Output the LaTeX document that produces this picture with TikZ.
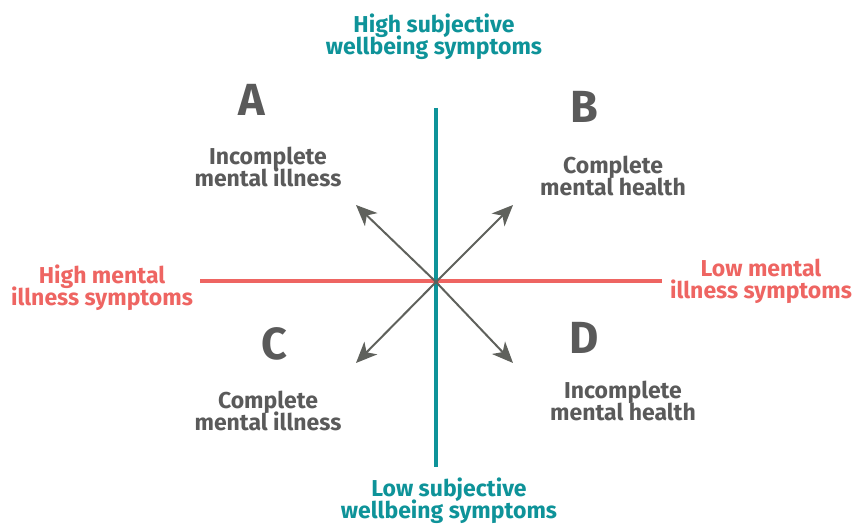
\documentclass[tikz,border=0pt]{standalone}
\usepackage{fontspec}
\setmainfont{Fira Sans}
\usetikzlibrary{arrows.meta}
\definecolor{teal}{HTML}{0E9399}
\definecolor{coral}{HTML}{EE6562}
\definecolor{txtgray}{HTML}{5A5A5A}
\definecolor{arrgray}{HTML}{5F615C}
\newcommand{\tightlines}{\lineskiplimit=-20pt\relax}
\tikzset{
  axlab/.style={font=\bfseries\fontsize{23}{22}\selectfont\tightlines, align=center, inner sep=0pt},
  quadlab/.style={font=\bfseries\fontsize{23}{21.5}\selectfont\tightlines, align=center, inner sep=0pt, text=txtgray},
  letter/.style={font=\bfseries\fontsize{45}{45}\selectfont, inner sep=0pt, text=txtgray},
  diag/.style={draw=arrgray, line width=2pt, -{Stealth[length=21pt,width=18pt,inset=6pt]}},
}
\begin{document}
\begin{tikzpicture}[x=1pt,y=-1pt]
\useasboundingbox (0,0) rectangle (854,524);
\coordinate (c) at (436,282);
\coordinate (vt) at (436,108);
\coordinate (vb) at (436,467);
\coordinate (hl) at (200,281);
\coordinate (hr) at (662,281);
\draw[coral, line width=4pt] (hl) -- (hr);
\draw[teal, line width=4pt] (vt) -- (vb);
\coordinate (tl) at (356,205);
\coordinate (tr) at (513,205);
\coordinate (bl) at (356,363);
\coordinate (br) at (513,363);
\draw[diag] (c) -- (tl);
\draw[diag] (c) -- (tr);
\draw[diag] (c) -- (bl);
\draw[diag] (c) -- (br);
\node[axlab, text=teal] (top) at (434,37) {High subjective\\wellbeing symptoms};
\node[axlab, text=teal] (bot) at (449,501) {Low subjective\\wellbeing symptoms};
\node[axlab, text=coral] (left) at (102,288) {High mental\\illness symptoms};
\node[axlab, text=coral] (right) at (761,281) {Low mental\\illness symptoms};
\node[letter] (A) at (252,100) {A};
\node[letter] (B) at (584,107) {B};
\node[letter] (C) at (274,344) {C};
\node[letter] (D) at (584,338) {D};
\node[quadlab] (qa) at (268,167) {Incomplete\\mental illness};
\node[quadlab] (qb) at (613,176) {Complete\\mental health};
\node[quadlab] (qc) at (268,411) {Complete\\mental illness};
\node[quadlab] (qd) at (623,401) {Incomplete\\mental health};
\end{tikzpicture}
\end{document}
